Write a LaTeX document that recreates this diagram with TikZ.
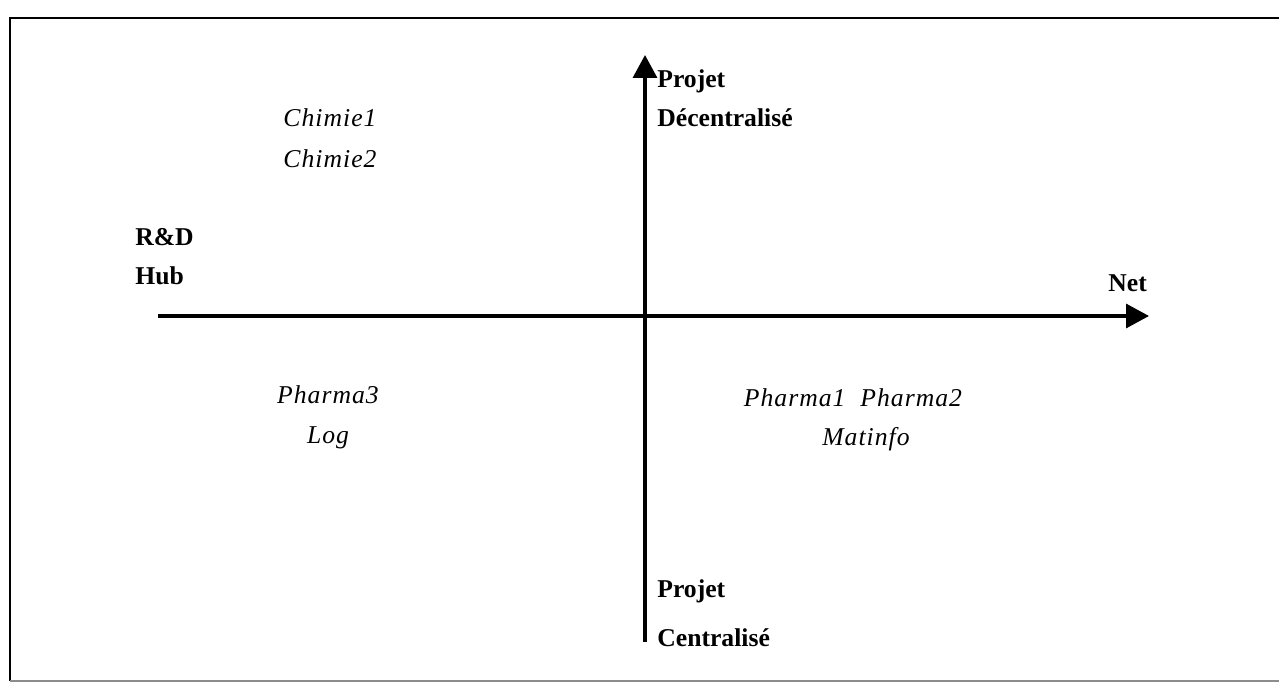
\documentclass[tikz,border=0pt]{standalone}
\usepackage{fontspec}
\setmainfont{Liberation Serif}
\newfontfamily\firmfont[LetterSpace=4]{Liberation Serif}
\usepackage{tikz}
\usetikzlibrary{arrows.meta}

\begin{document}
\begin{tikzpicture}[x=0.02cm, y=-0.02cm,
  axis/.style={line width=1.9pt, -{Triangle[length=0.46cm, width=0.48cm]}},
  pole/.style={font=\fontsize{14.6}{17}\selectfont\bfseries, inner sep=0pt, anchor=base west},
  firm/.style={font=\fontsize{14.6}{17}\selectfont\firmfont\itshape, inner sep=0pt, anchor=base}]

\useasboundingbox (0,0) rectangle (1279,682);

% frame
\draw[line width=1pt] (1290,18)--(10,18)--(10,681);
\draw[line width=1pt, black!45] (10,681)--(1290,681);

% axes
\coordinate (west) at (158,316);
\coordinate (east) at (1149,316);
\coordinate (south) at (645,642);
\coordinate (north) at (645,55);
\draw[axis] (west)--(east);
\draw[axis] (south)--(north);

% poles
\node[pole] (decA) at (657,88) {Projet};
\node[pole] (decB) at (657,127) {Décentralisé};
\node[pole] (cenA) at (657,597) {Projet};
\node[pole] (cenB) at (657,646) {Centralisé};
\node[pole] (rdA) at (135,246) {R\&D};
\node[pole] (rdB) at (135,285) {Hub};
\node[pole] (net) at (1108,292) {Net};

% firms
\node[firm] (chimieA) at (330,127) {Chimie1};
\node[firm] (chimieB) at (330,168) {Chimie2};
\node[firm] (pharmaC) at (328,403) {Pharma3};
\node[firm] (logis) at (328,443) {Log};
\node[firm] (pharmaAB) at (853,407) {Pharma1\ \ Pharma2};
\node[firm] (matinfo) at (866,445) {Matinfo};
\end{tikzpicture}
\end{document}
